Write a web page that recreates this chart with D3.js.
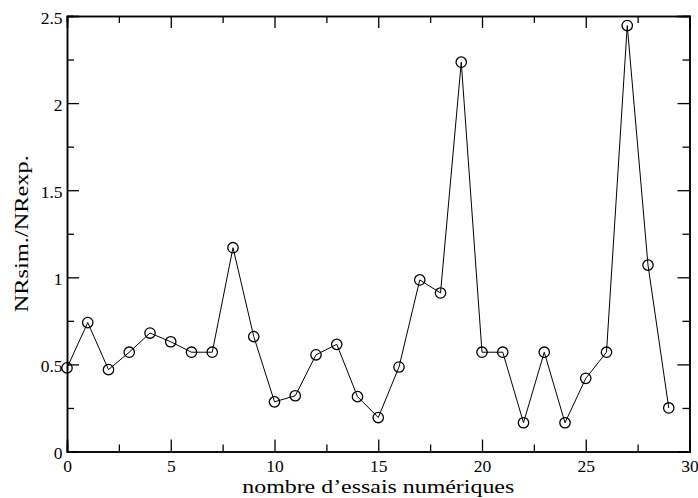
<!DOCTYPE html>
<html>
<head>
<meta charset="utf-8">
<script src="https://cdn.jsdelivr.net/npm/d3@7"></script>
<style>
  html, body { margin: 0; padding: 0; background: #fff; }
  svg { display: block; }
  svg text { font-family: "Liberation Serif", "LiberationSerif", "Liberation Serif Regular", "DejaVu Serif", "Times", serif; fill: #000; }
</style>
</head>
<body>
<script>
const trials = [0,1,2,3,4,5,6,7,8,9,10,11,12,13,14,15,16,17,18,19,20,21,22,23,24,25,26,27,28,29];
const ratios = [0.48,0.74,0.47,0.57,0.68,0.63,0.57,0.57,1.17,0.66,0.285,0.32,0.555,0.615,0.315,0.195,0.485,0.985,0.91,2.235,0.57,0.57,0.165,0.57,0.165,0.42,0.57,2.445,1.07,0.25];
const xMajorTicks = [0,5,10,15,20,25,30];
const xMinorTicks = [2.5,7.5,12.5,17.5,22.5,27.5];
const yMajorTicks = [0,0.5,1,1.5,2,2.5];
const yMinorTicks = [0.25,0.75,1.25,1.75,2.25];
const xTitle = "nombre d\u2019essais numériques";
const yTitle = "NRsim./NRexp.";

const W = 698, H = 498;
const mLeft = 67, mRight = 689.5, mTop = 16, mBottom = 451.5;

const svg = d3.select("body").append("svg").attr("width", W).attr("height", H);

const x = d3.scaleLinear().domain([0, 30]).range([mLeft, mRight]);
const y = d3.scaleLinear().domain([0, 2.5]).range([mBottom, mTop]);

const fmt = d => d === 0 ? "0" : String(d);

// bottom axis
const gB = svg.append("g").attr("transform", `translate(0,${mBottom})`)
  .call(d3.axisBottom(x).tickValues(xMajorTicks).tickSize(-12).tickPadding(8).tickFormat(fmt));
// left axis
const gL = svg.append("g").attr("transform", `translate(${mLeft},0)`)
  .call(d3.axisLeft(y).tickValues(yMajorTicks).tickSize(-12).tickPadding(4.5).tickFormat(fmt));
// top axis
svg.append("g").attr("transform", `translate(0,${mTop})`)
  .call(d3.axisTop(x).tickValues(xMajorTicks).tickSize(-12).tickFormat(""));
// right axis
svg.append("g").attr("transform", `translate(${mRight},0)`)
  .call(d3.axisRight(y).tickValues(yMajorTicks).tickSize(-12).tickFormat(""));

// minor ticks
svg.append("g").attr("transform", `translate(0,${mBottom})`)
  .call(d3.axisBottom(x).tickValues(xMinorTicks).tickSize(-7).tickFormat(""));
svg.append("g").attr("transform", `translate(0,${mTop})`)
  .call(d3.axisTop(x).tickValues(xMinorTicks).tickSize(-7).tickFormat(""));
svg.append("g").attr("transform", `translate(${mLeft},0)`)
  .call(d3.axisLeft(y).tickValues(yMinorTicks).tickSize(-7).tickFormat(""));
svg.append("g").attr("transform", `translate(${mRight},0)`)
  .call(d3.axisRight(y).tickValues(yMinorTicks).tickSize(-7).tickFormat(""));

svg.selectAll("g").attr("font-family", null).attr("font-size", null);
svg.selectAll(".domain").attr("stroke", "#000").attr("stroke-width", 1.5);
svg.selectAll(".tick line").attr("stroke", "#000").attr("stroke-width", 1.3);
svg.selectAll(".tick text")
  .attr("font-size", 17.5)
  .attr("fill", "#000");
gL.selectAll(".tick text").attr("dy", "0.4em");

// data line
const data = trials.map((t, i) => ({ t, v: ratios[i] }));
svg.append("path")
  .datum(data)
  .attr("fill", "none")
  .attr("stroke", "#000")
  .attr("stroke-width", 1)
  .attr("d", d3.line().x(d => x(d.t)).y(d => y(d.v)));

svg.append("g").selectAll("circle")
  .data(data).join("circle")
  .attr("cx", d => x(d.t))
  .attr("cy", d => y(d.v))
  .attr("r", 5.2)
  .attr("fill", "none")
  .attr("stroke", "#000")
  .attr("stroke-width", 1.3);

// titles
svg.append("text")
  .attr("x", (mLeft + mRight) / 2).attr("y", 493)
  .attr("text-anchor", "middle")
  .attr("textLength", 272)
  .attr("lengthAdjust", "spacingAndGlyphs")
  .attr("font-size", 19)
  .text(xTitle);

svg.append("text")
  .attr("transform", `translate(28,${(mTop + mBottom) / 2}) rotate(-90)`)
  .attr("text-anchor", "middle")
  .attr("textLength", 157)
  .attr("lengthAdjust", "spacingAndGlyphs")
  .attr("font-size", 19)
  .text(yTitle);
</script>
</body>
</html>
